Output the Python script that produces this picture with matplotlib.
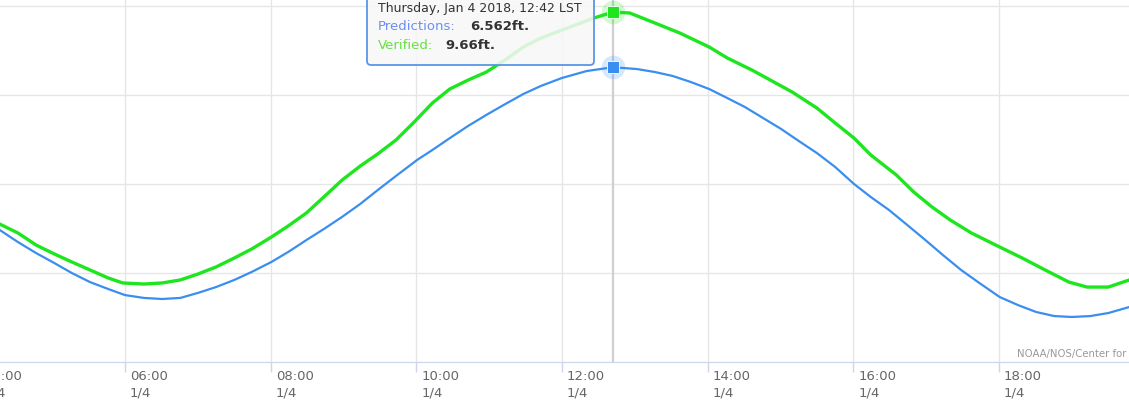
import matplotlib
matplotlib.use("Agg")
import matplotlib.pyplot as plt
import matplotlib.transforms as mtransforms
from matplotlib.patches import FancyBboxPatch

# Water level on Jan 4 2018 (hours LST, feet)
pred_hours = [4.28, 4.53, 4.78, 5.03, 5.27, 5.52, 5.77, 6.00, 6.26, 6.51, 6.76, 7.00,
              7.25, 7.50, 7.74, 8.01, 8.24, 8.49, 8.73, 8.98, 9.23, 9.47, 9.72, 10.01,
              10.22, 10.46, 10.71, 10.96, 11.22, 11.47, 11.71, 12.00, 12.34, 12.70,
              13.03, 13.28, 13.52, 13.77, 14.02, 14.27, 14.51, 14.76, 15.01, 15.25,
              15.50, 15.75, 16.01, 16.24, 16.49, 16.74, 16.99, 17.23, 17.48, 17.73,
              18.01, 18.26, 18.51, 18.76, 19.00, 19.25, 19.50, 19.79]
pred_ft = [-2.58, -3.26, -3.88, -4.44, -5.00, -5.51, -5.90, -6.24, -6.40, -6.46, -6.40, -6.12,
           -5.79, -5.39, -4.94, -4.38, -3.82, -3.15, -2.53, -1.85, -1.12, -0.34, 0.45, 1.35,
           1.91, 2.58, 3.26, 3.88, 4.49, 5.06, 5.51, 5.96, 6.35, 6.562,
           6.46, 6.29, 6.07, 5.73, 5.34, 4.83, 4.33, 3.71, 3.09, 2.42,
           1.74, 0.96, 0.00, -0.73, -1.46, -2.30, -3.15, -3.99, -4.83, -5.56,
           -6.35, -6.80, -7.19, -7.42, -7.47, -7.42, -7.25, -6.91]

verif_hours = [4.28, 4.53, 4.78, 5.03, 5.27, 5.52, 5.77, 5.97, 6.26, 6.51, 6.76, 7.00,
               7.25, 7.50, 7.74, 8.01, 8.24, 8.49, 8.73, 8.98, 9.23, 9.47, 9.72, 9.97,
               10.22, 10.46, 10.71, 10.96, 11.22, 11.47, 11.71, 12.04, 12.44, 12.70,
               12.93, 13.28, 13.62, 14.02, 14.27, 14.61, 14.91, 15.16, 15.50, 15.75,
               16.01, 16.24, 16.59, 16.83, 17.08, 17.33, 17.62, 18.01, 18.32, 18.61,
               18.96, 19.21, 19.50, 19.79]
verif_ft = [-2.25, -2.75, -3.43, -3.93, -4.38, -4.83, -5.28, -5.56, -5.62, -5.56, -5.39, -5.06,
            -4.66, -4.16, -3.65, -2.98, -2.36, -1.63, -0.73, 0.22, 1.01, 1.69, 2.47, 3.48,
            4.55, 5.34, 5.84, 6.29, 6.97, 7.70, 8.20, 8.71, 9.33, 9.66,
            9.61, 9.04, 8.48, 7.70, 7.08, 6.40, 5.73, 5.17, 4.27, 3.43,
            2.58, 1.63, 0.51, -0.45, -1.29, -2.02, -2.75, -3.54, -4.16, -4.78,
            -5.51, -5.79, -5.79, -5.39]

tick_hours = [4, 6, 8, 10, 12, 14, 16, 18]
tick_labels = ["%02d:00\n1/4" % h for h in tick_hours]
grid_ft = [-10, -5, 0, 5, 10]

hover_hour = 12.7
hover_pred = 6.562
hover_verif = 9.66
tooltip_title = "Thursday, Jan 4 2018, 12:42 LST"

blue = "#3a8ef0"
green = "#1ee61e"

W, H = 1129, 405
fig = plt.figure(figsize=(W / 100, H / 100), dpi=100)
ax = fig.add_axes([0, 43 / H, 1, 362 / H])
ax.set_xlim(4.284, 19.785)
ax.set_ylim(-10, 10.34)

# grid
ax.set_yticks(grid_ft)
ax.set_xticks(tick_hours[1:])
ax.grid(True, color="#e6e6e6", lw=1, zorder=0)
ax.tick_params(axis="y", length=0, labelleft=False)
ax.tick_params(axis="x", length=7.5, width=1, color="#ccd6eb", labelbottom=False)
for s in ["left", "right", "top"]:
    ax.spines[s].set_visible(False)
ax.spines["bottom"].set_color("#ccd6eb")
ax.set_axisbelow(True)

# tick labels, left aligned right of each tick
lbl_tr = mtransforms.blended_transform_factory(ax.transData, ax.transAxes) + \
    mtransforms.ScaledTranslation(0.05, -0.075, fig.dpi_scale_trans)
for h, lab in zip(tick_hours, tick_labels):
    ax.text(h, 0, lab, transform=lbl_tr, ha="left", va="top", fontsize=9.5,
            color="#666666", linespacing=1.45, clip_on=False)

# crosshair
ax.axvline(hover_hour, color="#d0d0d0", lw=1.6, zorder=1)

ax.plot(pred_hours, pred_ft, color=blue, lw=1.6, zorder=3, solid_joinstyle="round")
ax.plot(verif_hours, verif_ft, color=green, lw=2.4, zorder=3, solid_joinstyle="round")

# hover markers
for val, col in [(hover_pred, blue), (hover_verif, green)]:
    ax.plot(hover_hour, val, "o", ms=17, color=col, alpha=0.2, mec="none", zorder=4)
    ax.plot(hover_hour, val, "s", ms=8.5, mfc=col, mec="white", mew=0.6, zorder=5)

# tooltip
ident = mtransforms.IdentityTransform()
box = FancyBboxPatch((367, H - 65), 227, 90, boxstyle="round,pad=0,rounding_size=4",
                     transform=ident, fc=(0.97, 0.97, 0.97, 0.85), ec="#5a95e8",
                     lw=1.3, zorder=5)
fig.add_artist(box)
fig.text(378, H - 12, tooltip_title, transform=ident, fontsize=9, color="#333333",
         va="baseline", zorder=6)
fig.text(378, H - 30, "Predictions:", transform=ident, fontsize=9.5, color="#6a8ff5",
         va="baseline", zorder=6)
fig.text(470, H - 30, "%.3fft." % hover_pred, transform=ident, fontsize=9.5,
         fontweight="bold", color="#333333", va="baseline", zorder=6)
fig.text(378, H - 49, "Verified:", transform=ident, fontsize=9.5, color="#66e040",
         va="baseline", zorder=6)
fig.text(445, H - 49, "%.2fft." % hover_verif, transform=ident, fontsize=9.5,
         fontweight="bold", color="#333333", va="baseline", zorder=6)

# credit
fig.text(1017, H - 357, "NOAA/NOS/Center for Operational Oceanographic Products and Services",
         transform=ident, fontsize=7.3, color="#999999", va="baseline")

fig.savefig("out.png", dpi=100)
